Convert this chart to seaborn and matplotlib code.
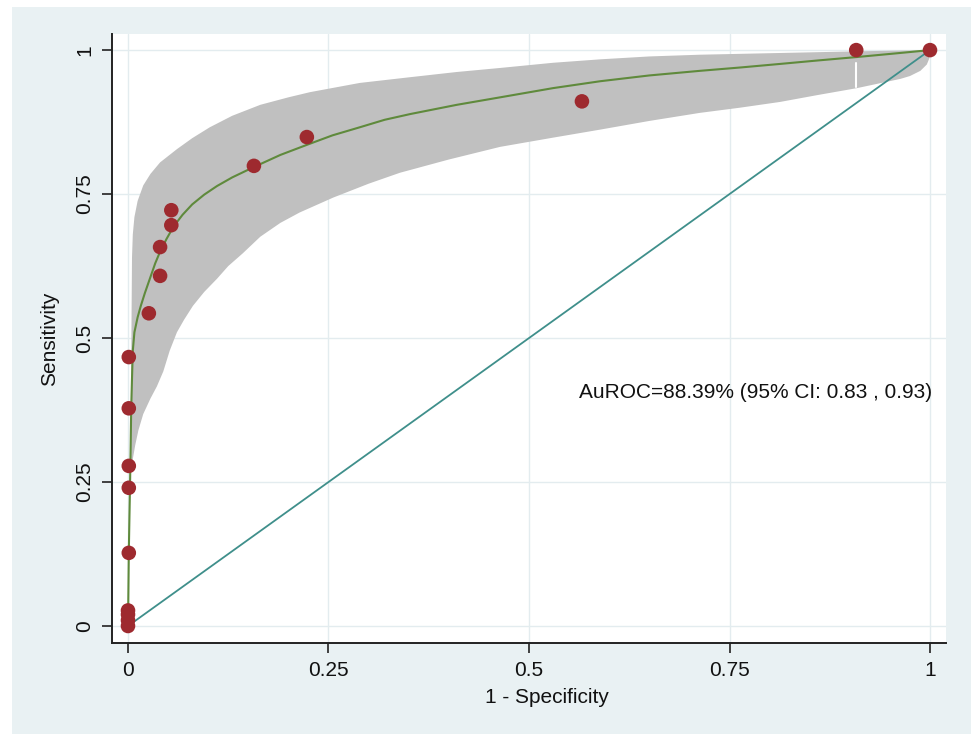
import numpy as np
import pandas as pd
import matplotlib
matplotlib.use("Agg")
import matplotlib.pyplot as plt
import seaborn as sns
from matplotlib.patches import Rectangle

# Studien-Punkte (1 - Spezifität, Sensitivität)
fpr = [0.0, 0.0, 0.0, 0.0, 0.001, 0.001, 0.001, 0.001, 0.001,
       0.026, 0.040, 0.040, 0.054, 0.054, 0.157, 0.223, 0.566, 0.908, 1.0]
sens = [0.0, 0.01, 0.02, 0.027, 0.127, 0.240, 0.278, 0.378, 0.467,
        0.543, 0.608, 0.658, 0.696, 0.722, 0.799, 0.849, 0.911, 1.0, 1.0]

# SROC-Kurve
curve_x = [0.0, 0.0005, 0.001, 0.0018, 0.0025, 0.0033, 0.004, 0.005, 0.006,
           0.008, 0.012, 0.016, 0.021, 0.027, 0.034, 0.040, 0.048, 0.057,
           0.068, 0.080, 0.095, 0.111, 0.130, 0.157, 0.190, 0.224, 0.255,
           0.289, 0.320, 0.352, 0.410, 0.464, 0.530, 0.589, 0.650, 0.713,
           0.765, 0.813, 0.860, 0.909, 0.955, 1.0]
curve_y = [0.0, 0.060, 0.127, 0.190, 0.241, 0.310, 0.378, 0.430, 0.478,
           0.510, 0.536, 0.556, 0.578, 0.602, 0.630, 0.650, 0.672, 0.694,
           0.714, 0.732, 0.749, 0.764, 0.779, 0.797, 0.818, 0.836, 0.852,
           0.866, 0.879, 0.889, 0.905, 0.918, 0.934, 0.946, 0.956, 0.964,
           0.970, 0.976, 0.982, 0.988, 0.994, 1.0]

# Konfidenzbereich: obere Grenze (links nach rechts), untere Grenze (rechts nach links)
upper_x = [0.0037, 0.0037, 0.0045, 0.005, 0.006, 0.008, 0.012, 0.019, 0.028,
           0.040, 0.061, 0.080, 0.102, 0.130, 0.165, 0.200, 0.227, 0.289,
           0.352, 0.410, 0.464, 0.530, 0.589, 0.650, 0.713, 0.813, 0.913, 0.996]
upper_y = [0.276, 0.400, 0.550, 0.640, 0.680, 0.710, 0.738, 0.765, 0.785,
           0.805, 0.828, 0.847, 0.866, 0.886, 0.905, 0.918, 0.927, 0.943,
           0.953, 0.962, 0.969, 0.978, 0.984, 0.989, 0.992, 0.995, 0.998, 1.0]
lower_x = [1.0, 0.999, 0.996, 0.988, 0.975, 0.963, 0.909, 0.860, 0.813, 0.763,
           0.713, 0.650, 0.589, 0.530, 0.464, 0.400, 0.339, 0.300, 0.256,
           0.214, 0.190, 0.165, 0.143, 0.125, 0.111, 0.095, 0.081, 0.070, 0.061,
           0.052, 0.044, 0.036, 0.028, 0.019, 0.013, 0.009, 0.006, 0.0045]
lower_y = [0.997, 0.985, 0.975, 0.964, 0.955, 0.950, 0.934, 0.922, 0.910, 0.900,
           0.891, 0.877, 0.862, 0.848, 0.832, 0.810, 0.787, 0.768, 0.744,
           0.718, 0.700, 0.676, 0.647, 0.625, 0.603, 0.580, 0.556, 0.532, 0.510,
           0.478, 0.442, 0.416, 0.395, 0.368, 0.340, 0.314, 0.290, 0.276]

# kleiner weißer Strich im Band bei FPR = 0.908
gap_y = [0.936, 0.977]

ticks = [0, 0.25, 0.5, 0.75, 1]
tick_labels = ["0", "0.25", "0.5", "0.75", "1"]
annotation = "AuROC=88.39% (95% CI: 0.83 , 0.93)"

bg = "#e9f1f3"
grid_col = "#e3ecef"

sns.set_style("white")
plt.rcParams['font.family'] = ['Liberation Sans Narrow', 'Liberation Sans', 'DejaVu Sans']

fig = plt.figure(figsize=(9.71, 7.34), dpi=100)
fig.patch.set_facecolor("white")
fig.patches.append(Rectangle((12 / 971, 0), 1 - 12 / 971, 1 - 7 / 734,
                             transform=fig.transFigure, facecolor=bg,
                             edgecolor="none", zorder=-10))
ax = fig.add_axes([0.1153, 0.124, 0.859, 0.8297])
ax.set_facecolor("white")

# Konfidenzband
band_x = upper_x + lower_x
band_y = upper_y + lower_y
ax.fill(band_x, band_y, color="#c0c0c0", lw=0, zorder=1)
ax.plot([fpr[-2], fpr[-2]], gap_y, color="white", lw=1.5, zorder=1.5)

# Diagonale
ax.plot([0, 1], [0, 1], color="#3f8f8b", lw=1.3, zorder=2)

# SROC-Kurve
sns.lineplot(x=curve_x, y=curve_y, ax=ax, color="#5f8a3c", lw=1.5,
             sort=False, estimator=None, zorder=3)

# Punkte
df = pd.DataFrame({"fpr": fpr, "sens": sens})
sns.scatterplot(data=df, x="fpr", y="sens", ax=ax, color="#9e2a2f",
                s=110, edgecolor="none", zorder=4)

ax.set_xlim(-0.02, 1.02)
ax.set_ylim(-0.0295, 1.028)
ax.set_xticks(ticks)
ax.set_xticklabels(tick_labels)
ax.set_yticks(ticks)
ax.set_yticklabels(tick_labels, rotation=90, va="center")
ax.grid(True, color=grid_col, lw=1)
ax.set_axisbelow(True)

for side in ["top", "right"]:
    ax.spines[side].set_visible(False)
for side in ["left", "bottom"]:
    ax.spines[side].set_color("#222222")
    ax.spines[side].set_linewidth(1.4)

ax.tick_params(axis="both", which="both", direction="out", length=7, width=1.2,
               color="#222222", labelsize=15, labelcolor="#111111", pad=6)
ax.tick_params(axis="x", bottom=True)
ax.tick_params(axis="y", left=True)

ax.set_xlabel("1 - Specificity", fontsize=15, color="#111111")
ax.set_ylabel("Sensitivity", fontsize=15, color="#111111")
ax.xaxis.set_label_coords(0.5216, -0.074)
ax.yaxis.set_label_coords(-0.063, 0.5)

ax.text(0.5628, 0.405, annotation, fontsize=15, color="#111111",
        family=['Liberation Sans', 'DejaVu Sans'], va="center", ha="left")

fig.savefig("out.png", dpi=100, facecolor=fig.get_facecolor())
